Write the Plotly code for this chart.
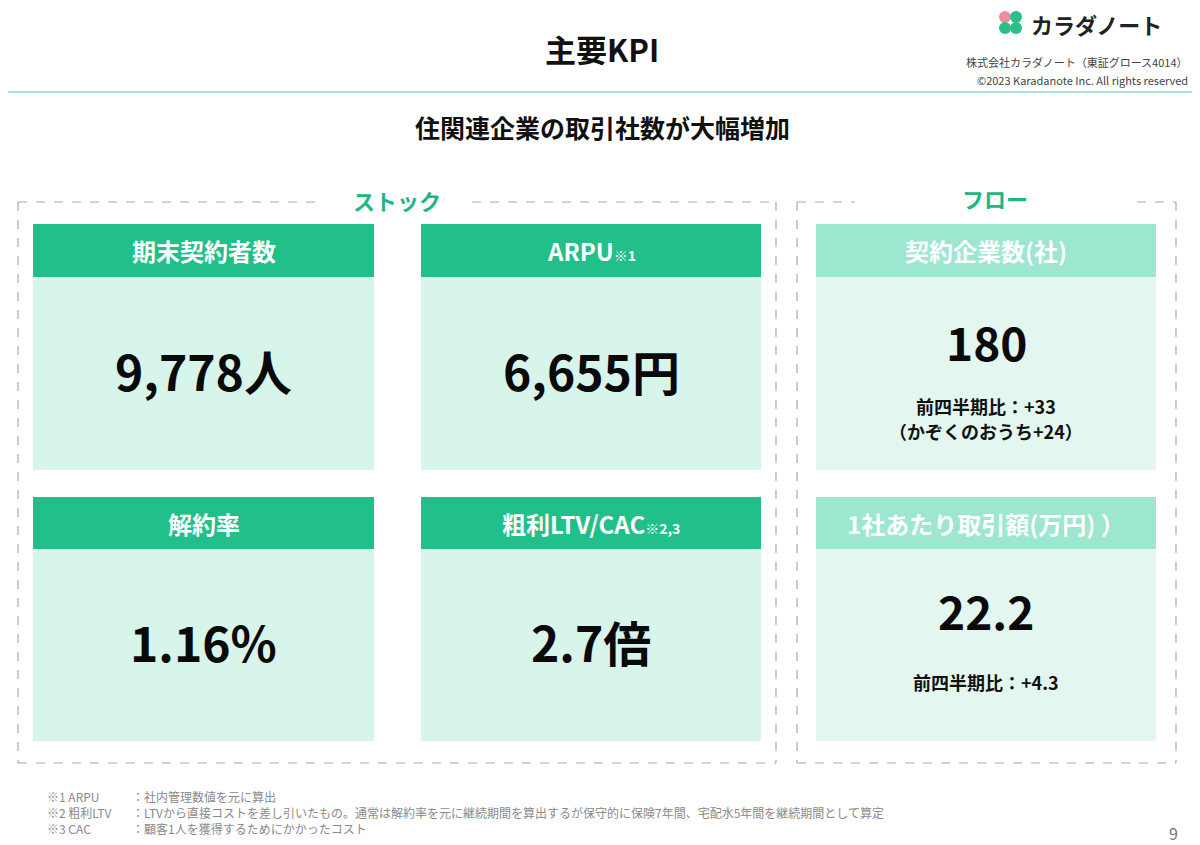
"""主要KPI スライドの再現 (Plotly)."""
import plotly.graph_objects as go

FONT = "Noto Sans CJK JP"
GREEN = "#21bf89"
GREEN_LIGHT = "#9de6d0"
BODY_STOCK = "#d8f5ec"
BODY_FLOW = "#e3f7f0"
LABEL_GREEN = "#1fb584"
DASH_GRAY = "#aaaaaa"

# --- données ---
stock_titles = ["期末契約者数", "ARPU", "解約率", "粗利LTV/CAC"]
stock_notes = ["", "※1", "", "※2,3"]
stock_values = ["9,778人", "6,655円", "1.16%", "2.7倍"]

flow_titles = ["契約企業数(社)", "1社あたり取引額(万円) ）"]
flow_values = ["180", "22.2"]
flow_notes = [["前四半期比：+33", "（かぞくのおうち+24）"], ["前四半期比：+4.3"]]

footnote_labels = ["※1 ARPU", "※2 粗利LTV", "※3 CAC"]
footnote_texts = [
    "：社内管理数値を元に算出",
    "：LTVから直接コストを差し引いたもの。通常は解約率を元に継続期間を算出するが保守的に保険7年間、宅配水5年間を継続期間として算定",
    "：顧客1人を獲得するためにかかったコスト",
]

# la page a une marge de 8px : on décale le repère pour garder les coordonnées écran
W, H = 1200, 845
OFF = 8
fig = go.Figure()
shapes = []
annotations = []


def text(x, y, s, size, color="#111", bold=False, xanchor="center"):
    if bold:
        s = f"<b>{s}</b>"
    annotations.append(dict(
        x=x, y=y, xref="x", yref="y", text=s, showarrow=False,
        xanchor=xanchor, yanchor="middle",
        font=dict(family=FONT, size=size, color=color),
    ))


def rect(x0, y0, x1, y1, color):
    shapes.append(dict(type="rect", x0=x0, y0=y0, x1=x1, y1=y1,
                       xref="x", yref="y", fillcolor=color,
                       line=dict(width=0), layer="below"))


def dline(x0, y0, x1, y1):
    shapes.append(dict(type="line", x0=x0, y0=y0, x1=x1, y1=y1,
                       xref="x", yref="y",
                       line=dict(color=DASH_GRAY, width=1.2, dash="dash")))


# en-tête
text(602, 48, "主要KPI", 31, bold=True)
text(1096, 24, "カラダノート", 22, color="#222", bold=True)
for cx, cy, col in [(1005, 17, "#f28c9c"), (1016, 17, "#2bbf86"),
                    (1005, 28, "#2bbf86"), (1016, 28, "#2bbf86")]:
    shapes.append(dict(type="circle", x0=cx - 6, y0=cy - 6, x1=cx + 6, y1=cy + 6,
                       xref="x", yref="y", fillcolor=col, line=dict(width=0)))
text(1190, 62, "株式会社カラダノート（東証グロース4014）", 11, color="#444",
     xanchor="right")
text(1190, 80, "©2023 Karadanote Inc. All rights reserved", 11, color="#444",
     xanchor="right")
shapes.append(dict(type="line", x0=0, y0=92, x1=W, y1=92, xref="x", yref="y",
                   line=dict(color="#a8e6cf", width=2)))
text(602, 127, "住関連企業の取引社数が大幅増加", 25, bold=True)

# cadres pointillés
dline(18, 202, 318, 202)
dline(472, 202, 776, 202)
dline(18, 202, 18, 763)
dline(776, 202, 776, 763)
dline(18, 763, 776, 763)
text(397, 200, "ストック", 22, color=LABEL_GREEN, bold=True)

dline(797, 202, 855, 202)
dline(1137, 202, 1176, 202)
dline(797, 202, 797, 763)
dline(1176, 202, 1176, 763)
dline(797, 763, 1176, 763)
text(995, 198, "フロー", 22, color=LABEL_GREEN, bold=True)

# cartes stock
col_x = [(33, 374), (421, 761)]
row_y = [(224, 277, 470), (497, 549, 741)]
for i, (title, note, val) in enumerate(zip(stock_titles, stock_notes, stock_values)):
    x0, x1 = col_x[i % 2]
    h0, h1, b1 = row_y[i // 2]
    rect(x0, h0, x1, h1, GREEN)
    rect(x0, h1, x1, b1, BODY_STOCK)
    t = title
    if note:
        t += f"<span style='font-size:14px'>{note}</span>"
    text((x0 + x1) / 2, (h0 + h1) / 2, t, 24, color="white", bold=True)
    text((x0 + x1) / 2, (h1 + b1) / 2 - 4, val, 48, color="#0a0a0a", bold=True)

# cartes flux
fx0, fx1 = 816, 1156
value_y = [341, 610]
note_y = [[406, 431], [682]]
for j, (title, val, notes) in enumerate(zip(flow_titles, flow_values, flow_notes)):
    h0, h1, b1 = row_y[j]
    rect(fx0, h0, fx1, h1, GREEN_LIGHT)
    rect(fx0, h1, fx1, b1, BODY_FLOW)
    text((fx0 + fx1) / 2, (h0 + h1) / 2, title, 24, color="white", bold=True)
    text((fx0 + fx1) / 2, value_y[j], val, 46, color="#0a0a0a", bold=True)
    for ny, line in zip(note_y[j], notes):
        text((fx0 + fx1) / 2, ny, line, 18, color="#111", bold=True)

# notes de bas de page
for k, (lab, txt) in enumerate(zip(footnote_labels, footnote_texts)):
    y = 796 + 16 * k
    text(45, y, lab, 12, color="#8a8a8a", xanchor="left")
    text(130, y, txt, 12, color="#8a8a8a", xanchor="left")
text(1173, 833, "9", 16, color="#777")

fig.update_layout(
    width=W - OFF, height=H - OFF,
    margin=dict(l=0, r=0, t=0, b=0),
    paper_bgcolor="white", plot_bgcolor="white",
    xaxis=dict(range=[OFF, W], visible=False, fixedrange=True),
    yaxis=dict(range=[H, OFF], visible=False, fixedrange=True),
    shapes=shapes, annotations=annotations,
    showlegend=False,
)
fig.write_html("out.html", config=dict(displayModeBar=False))
